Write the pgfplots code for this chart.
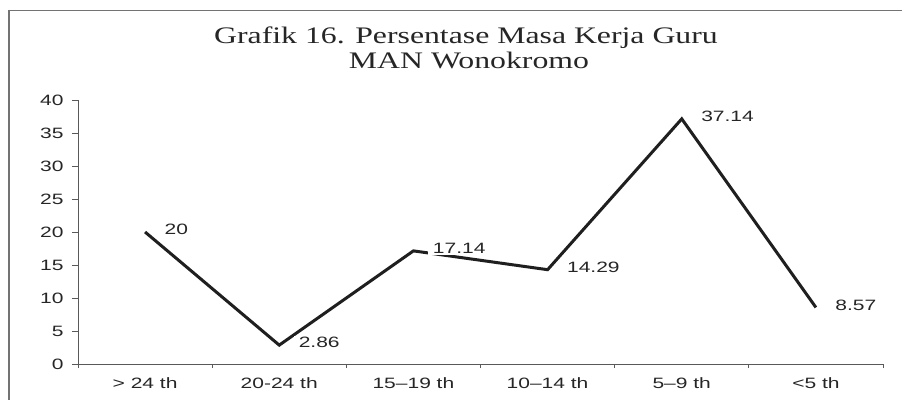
\documentclass[border=0pt]{standalone}
\usepackage{fontspec}
\setmainfont{Liberation Serif}
\newfontfamily\titlefont{Liberation Serif}[FakeStretch=1.34]
\newfontfamily\lab{Liberation Sans}[FakeStretch=1.4]
\usepackage{pgfplots}
\pgfplotsset{compat=1.18}
\begin{document}
\begin{tikzpicture}[x=1pt,y=1pt]
\fill[white] (0,0) rectangle (902,400);
\fill[black!55] (8.3,0) rectangle (9.7,390.2);
\fill[black!55] (8.3,388.8) rectangle (902,390.2);
\node[anchor=base, text=black!85, font=\titlefont\fontsize{23.7}{28}\selectfont] at (466,356) {Grafik 16. Persentase Masa Kerja Guru};
\node[anchor=base, text=black!85, font=\titlefont\fontsize{23.7}{28}\selectfont] at (469,332) {MAN Wonokromo};
\begin{axis}[at={(78pt,36pt)}, anchor=south west, scale only axis,
  width=805pt, height=264pt,
  xmin=-0.5, xmax=5.5, ymin=0, ymax=40,
  axis lines*=left,
  axis line style={black!65, line width=0.9pt},
  /pgf/number format/assume math mode=true,
  xtick={0,1,2,3,4,5},
  xticklabels={{> 24 th},{20-24 th},{15–19 th},{10–14 th},{5–9 th},{<5 th}},
  minor xtick={-0.5,0.5,1.5,2.5,3.5,4.5,5.5},
  ytick={0,5,...,40},
  tick align=outside,
  major tick length=6pt,
  minor tick length=4pt,
  every major x tick/.style={draw=none},
  every tick/.style={black!65, line width=0.8pt},
  every minor tick/.style={black!65, line width=0.8pt},
  tick label style={font=\lab\fontsize{15}{18}\selectfont, text=black!85},
  yticklabel style={xshift=-5pt},
  xticklabel style={yshift=-4pt},
  clip=false,
]
\addplot[line width=3pt, color=black!88, mark=none,
  nodes near coords,
  nodes near coords style={anchor=west, xshift=13pt, yshift=2.5pt, fill=white,
    inner xsep=5pt, inner ysep=1pt, font=\lab\fontsize{15}{18}\selectfont, text=black!85}]
  coordinates {(0,20) (1,2.86) (2,17.14) (3,14.29) (4,37.14) (5,8.57)};
\end{axis}
\end{tikzpicture}
\end{document}
